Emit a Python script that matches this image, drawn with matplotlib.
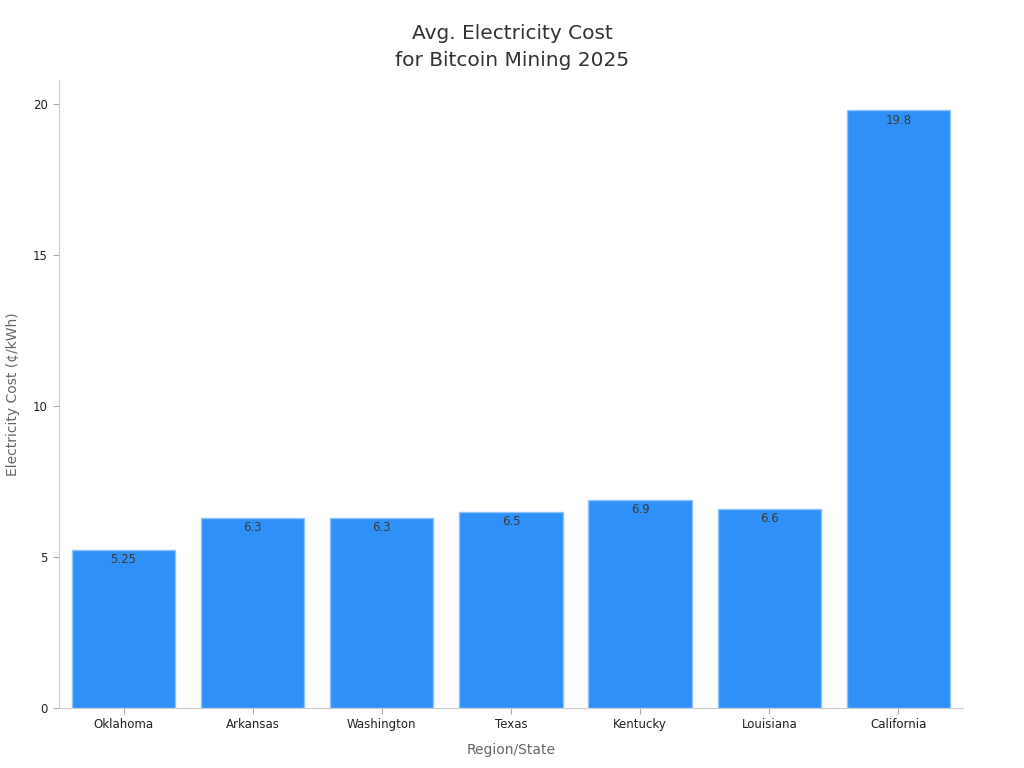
import matplotlib
matplotlib.use('Agg')
import matplotlib.pyplot as plt

regions = ['Oklahoma', 'Arkansas', 'Washington', 'Texas', 'Kentucky', 'Louisiana', 'California']
cost = [5.25, 6.3, 6.3, 6.5, 6.9, 6.6, 19.8]
cost_labels = ['5.25', '6.3', '6.3', '6.5', '6.9', '6.6', '19.8']

fig = plt.figure(figsize=(10.24, 7.68), dpi=100)
ax = fig.add_axes([0.0576, 0.078, 0.8828, 0.818])

x = range(len(regions))
bars = ax.bar(x, cost, width=0.8, color='#2f91f8', edgecolor='#8cc4fb', linewidth=1)
for b, lab in zip(bars, cost_labels):
    ax.text(b.get_x() + b.get_width() / 2, b.get_height() - 0.12, lab,
            ha='center', va='top', fontsize=8.5, color='#3a3a3a')

ax.set_xlim(-0.5, 6.5)
ax.set_ylim(0, 20.8)
ax.set_yticks([0, 5, 10, 15, 20])
ax.set_xticks(list(x))
ax.set_xticklabels(regions)
ax.tick_params(labelsize=8.5, colors='#222222', length=4, pad=4)
ax.tick_params(axis='x', pad=3)
ax.tick_params(axis='both', color='#aaaaaa')

for s in ['top', 'right']:
    ax.spines[s].set_visible(False)
for s in ['left', 'bottom']:
    ax.spines[s].set_color('#cccccc')

ax.set_xlabel('Region/State', fontsize=10, color='#666666', labelpad=9)
ax.set_ylabel('Electricity Cost (¢/kWh)', fontsize=10, color='#666666', labelpad=9)
fig.text(0.5, 0.939, 'Avg. Electricity Cost\nfor Bitcoin Mining 2025', ha='center', va='center',
         fontsize=14.5, color='#333333', linespacing=1.5)

fig.savefig('out.png', dpi=100)
